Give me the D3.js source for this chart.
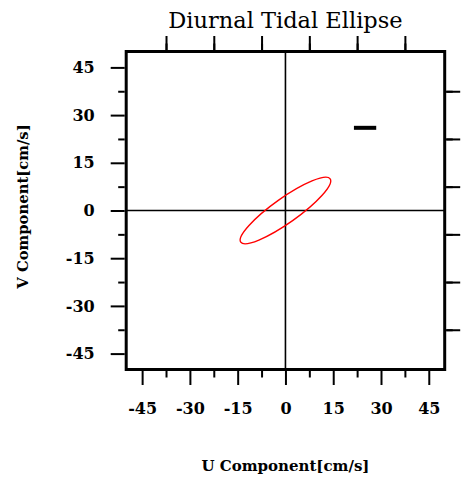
<!DOCTYPE html>
<html>
<head>
<meta charset="utf-8">
<script src="https://cdn.jsdelivr.net/npm/d3@7"></script>
<style>
  html, body { margin: 0; padding: 0; background: #fff; }
  svg { display: block; }
</style>
</head>
<body>
<svg id="chart" width="464" height="480"></svg>
<script>
// ---- data ----
const axisDomain = [-50, 50];
const majorTicks = [-45, -30, -15, 0, 15, 30, 45];
const minorTicks = [-37.5, -22.5, -7.5, 7.5, 22.5, 37.5];
const ellipseCenter = [0, 0];          // [u, v] cm/s
const ellipseSemiAxes = [17.2, 3.9];   // semi-major, semi-minor cm/s
const ellipseInclination = [35.3];     // degrees, counter-clockwise from U axis
const scaleBarU = [21.5, 28.5];
const scaleBarV = [26];
const titleText = "Diurnal Tidal Ellipse";
const xTitle = "U Component[cm/s]";
const yTitle = "V Component[cm/s]";

// ---- layout ----
const pLeft = 126.2, pRight = 444.7, pTop = 51.5, pBottom = 369.5;
const svg = d3.select("#chart");
const x = d3.scaleLinear().domain(axisDomain).range([pLeft, pRight]);
const y = d3.scaleLinear().domain(axisDomain).range([pBottom, pTop]);
const font = "'DejaVu Serif', serif";

// zero lines
svg.append("line").attr("x1", x(axisDomain[0])).attr("x2", x(axisDomain[1]))
  .attr("y1", y(0)).attr("y2", y(0)).attr("stroke", "#000").attr("stroke-width", 1.3);
svg.append("line").attr("y1", y(axisDomain[0])).attr("y2", y(axisDomain[1]))
  .attr("x1", x(0)).attr("x2", x(0)).attr("stroke", "#000").attr("stroke-width", 1.6);

// ellipse
const cx = x(ellipseCenter[0]), cy = y(ellipseCenter[1]);
svg.append("ellipse")
  .attr("cx", cx).attr("cy", cy)
  .attr("rx", x(ellipseCenter[0] + ellipseSemiAxes[0]) - cx)
  .attr("ry", cy - y(ellipseCenter[1] + ellipseSemiAxes[1]))
  .attr("transform", `rotate(${-ellipseInclination[0]},${cx},${cy})`)
  .attr("fill", "none").attr("stroke", "#ff0000").attr("stroke-width", 1.4);

// scale bar
svg.append("line").attr("x1", x(scaleBarU[0])).attr("x2", x(scaleBarU[1]))
  .attr("y1", y(scaleBarV[0])).attr("y2", y(scaleBarV[0]))
  .attr("stroke", "#000").attr("stroke-width", 4);

// axes
function styleAxis(g, labels) {
  g.select(".domain").remove();
  g.selectAll(".tick line").attr("stroke", "#000").attr("stroke-width", 2);
  if (labels) {
    g.selectAll(".tick text").attr("font-family", font).attr("font-weight", "bold")
      .attr("font-size", 16).attr("fill", "#000");
  } else {
    g.selectAll(".tick text").remove();
  }
}
function addAxis(gen, scale, transform, size, labels, pad) {
  const g = svg.append("g").attr("transform", transform)
    .call(gen(scale).tickValues(labels ? majorTicks : minorTicks)
      .tickSize(size).tickPadding(pad).tickFormat(d => String(d)));
  styleAxis(g, labels);
  return g;
}
// major with labels
const gb = addAxis(d3.axisBottom, x, `translate(0,${pBottom + 1.5})`, 14, true, 18);
addAxis(d3.axisBottom, x, `translate(0,${pBottom + 1.5})`, 6.5, false, 0);
const gl = addAxis(d3.axisLeft, y, `translate(${pLeft - 1.5},0)`, 14, true, 16);
addAxis(d3.axisLeft, y, `translate(${pLeft - 1.5},0)`, 6.5, false, 0);
// top & right without labels
addAxis(d3.axisTop, x, `translate(0,${pTop - 1.5})`, 14, false, 0);
addAxis(d3.axisTop, x, `translate(0,${pTop - 1.5})`, 6.5, false, 0);
addAxis(d3.axisRight, y, `translate(${pRight + 1.5},0)`, 14, false, 0);
addAxis(d3.axisRight, y, `translate(${pRight + 1.5},0)`, 6.5, false, 0);

// frame
svg.append("rect").attr("x", pLeft).attr("y", pTop)
  .attr("width", pRight - pLeft).attr("height", pBottom - pTop)
  .attr("fill", "none").attr("stroke", "#000").attr("stroke-width", 3)
  .attr("stroke-linejoin", "miter");

// titles
svg.append("text").attr("x", x(0)).attr("y", 27.5).attr("text-anchor", "middle")
  .attr("font-family", font).attr("font-size", 22.5).attr("fill", "#000").text(titleText);
svg.append("text").attr("x", x(0)).attr("y", 470.5).attr("text-anchor", "middle")
  .attr("font-family", font).attr("font-weight", "bold").attr("font-size", 15)
  .attr("fill", "#000").text(xTitle);
svg.append("text").attr("transform", `translate(27.5,${y(0) - 4}) rotate(-90)`)
  .attr("text-anchor", "middle")
  .attr("font-family", font).attr("font-weight", "bold").attr("font-size", 14.8)
  .attr("fill", "#000").text(yTitle);
</script>
</body>
</html>
